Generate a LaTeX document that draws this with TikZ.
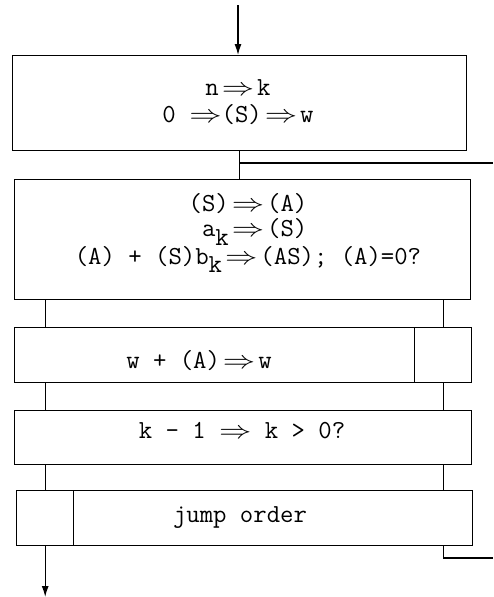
\documentclass[tikz,border=0pt]{standalone}
\usepackage{fontspec}
\usepackage{graphicx}
\usetikzlibrary{arrows.meta,calc}
\newcommand{\arrw}{\scalebox{1.3}[1]{$\Rightarrow$}}
\newcommand{\dimp}{\kern3pt\arrw\kern3pt}
\newcommand{\subk}{\raisebox{-0.32em}{k}}
\begin{document}
\begin{tikzpicture}[x=1pt,y=-1pt,
  cell/.style={draw, line width=1.4pt, fill=white, inner sep=0pt, anchor=north west},
  txt/.style={font=\ttfamily\fontsize{26}{25}\selectfont, align=center, inner sep=0pt},
  flow/.style={line width=1.3pt},
  arr/.style={flow, -{Latex[length=11pt,width=7pt]}}]
\useasboundingbox (0,0) rectangle (493,597);
% cells
\node[cell, minimum width=454pt, minimum height=95pt] (b1) at (12,55) {};
\node[cell, minimum width=456pt, minimum height=120pt] (b2) at (14,179) {};
\node[cell, minimum width=400pt, minimum height=55pt] (b3) at (14,327) {};
\node[cell, minimum width=57pt, minimum height=55pt] (b3r) at (414,327) {};
\node[cell, minimum width=457pt, minimum height=54pt] (b4) at (14,410) {};
\node[cell, minimum width=57pt, minimum height=55pt] (b5l) at (16,490) {};
\node[cell, minimum width=399pt, minimum height=55pt] (b5) at (73,490) {};
% texts
\node[txt, font=\ttfamily\fontsize{26}{27}\selectfont] (t1) at (238,102) {n\dimp k\\0 \arrw(S)\dimp w};
\node[txt] (t2) at (248,233) {(S)\dimp(A)\\\hphantom{(}a\subk\dimp(S)\\(A) + (S)b\subk\dimp(AS); (A)=0?};
\node[txt] (t3) at (199,361) {w + (A)\dimp w};
\node[txt] (t4) at (242,431) {k - 1 \arrw{} k > 0?};
\node[txt] (t5) at (240,518) {jump order};
% connectors
\coordinate (start) at (238,5);
\coordinate (rt) at (493,163);
\coordinate (rb) at (493,558);
\coordinate (stop) at (44,597);
\draw[arr] (start) -- (start |- b1.north);
\draw[flow] (b1.south) -- (b1.south |- b2.north);
\draw[flow] (b1.south |- rt) -- (rt);
\draw[flow] (b5l.north |- b2.south) -- (b5l.north |- b3.north);
\draw[flow] (b5l.north |- b3.south) -- (b5l.north |- b4.north);
\draw[flow] (b5l.north |- b4.south) -- (b5l.north);
\draw[arr] (b5l.south) -- (b5l.south |- stop);
\draw[flow] (b3r.north |- b2.south) -- (b3r.north);
\draw[flow] (b3r.south) -- (b3r.south |- b4.north);
\draw[flow] (b3r.south |- b4.south) -- (b3r.south |- b5.north);
\draw[flow] (b3r.south |- b5.south) |- (rb);
\end{tikzpicture}
\end{document}
